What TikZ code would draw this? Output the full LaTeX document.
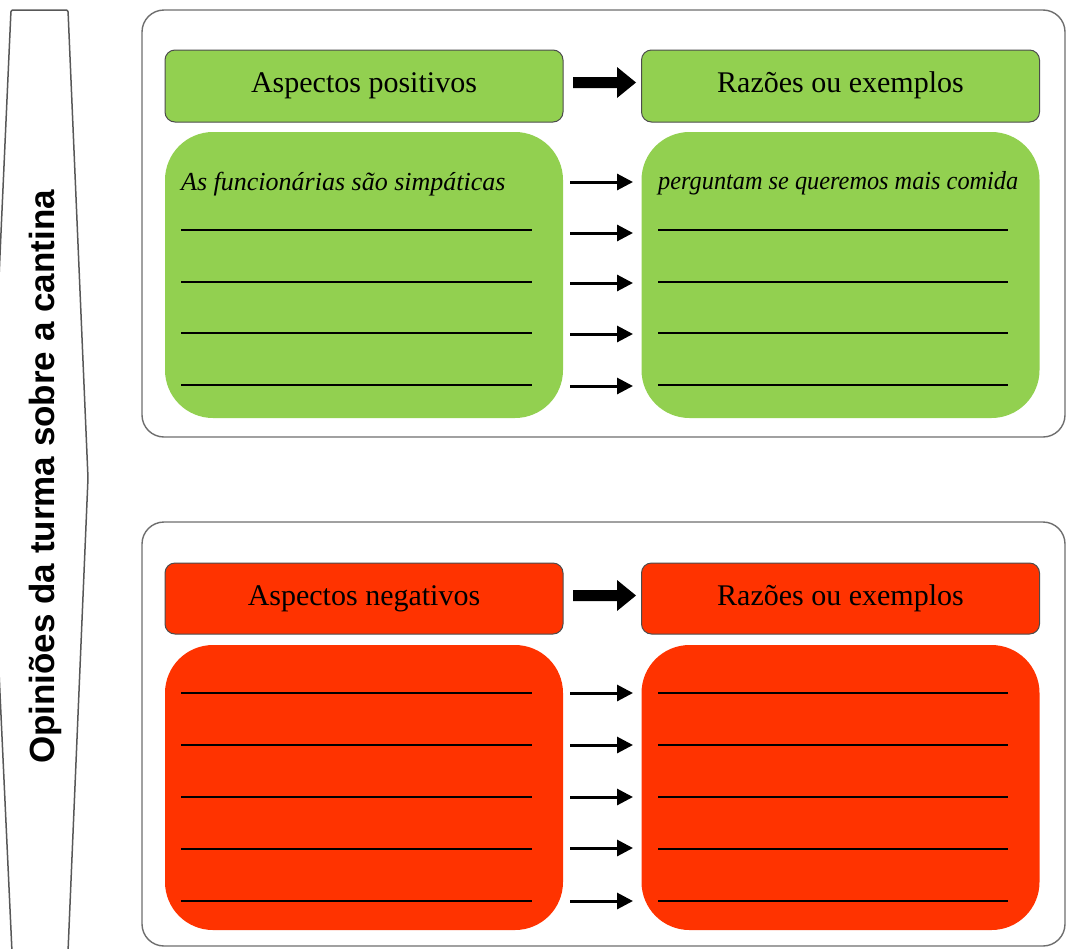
\documentclass[tikz,border=0pt]{standalone}
\usepackage{fontspec}
\setmainfont{Liberation Serif}
\newfontfamily\sidefont{Liberation Sans}
\usetikzlibrary{arrows.meta}
\definecolor{posgreen}{HTML}{92D050}
\definecolor{negred}{HTML}{FF3300}
\definecolor{frame}{HTML}{6E6E6E}
\tikzset{
  container/.style={draw=frame, line width=1.4pt, rounded corners=22pt, fill=white,
    minimum width=923pt, inner sep=0pt, outer sep=0pt},
  header/.style={draw=black!70, line width=1pt, rounded corners=10pt,
    minimum width=398pt, minimum height=72pt, inner sep=0pt, outer sep=0pt},
  body/.style={rounded corners=48pt, minimum width=398pt, minimum height=286pt,
    inner sep=0pt, outer sep=0pt},
  htext/.style={font=\fontsize{30}{36}\selectfont, anchor=base, inner sep=0pt},
  itext/.style={font=\fontsize{26}{30}\selectfont\itshape, anchor=base west, inner sep=0pt},
  rule/.style={line width=1.3pt, black},
  smallarrow/.style={line width=3pt, -{Triangle[length=16pt,width=16pt]}},
  bigarrow/.style={fill=black},
}
\begin{document}
\begin{tikzpicture}[x=1pt,y=-1pt]
\useasboundingbox (0,0) rectangle (1067,948);
% side banner
\begin{scope}
\clip (0,0) rectangle (1067,948);
\draw[frame!80!black, line width=1.5pt, fill=white, rounded corners=2pt]
  (11,10) -- (68,10) -- (88,478) -- (68,952) -- (12,952) -- (-10,478) -- cycle;
\end{scope}
\node[rotate=90, font=\sidefont\bfseries\fontsize{35}{40}\selectfont, inner sep=0pt] (side) at (45,477)
  {Opiniões da turma sobre a cantina};

% ===== positive block =====
\node[container, minimum height=427pt] (posbox) at (603.5,223.5) {};
\node[header, fill=posgreen] (poshead) at (364,86) {};
\node[header, fill=posgreen] (posreason) at (840.5,86) {};
\node[htext] at (364,92) {Aspectos positivos};
\node[htext] at (840.5,92) {Razões ou exemplos};
\fill[bigarrow] (573,77) -- (617,77) -- (617,67) -- (636,82.5) -- (617,98) -- (617,88) -- (573,88) -- cycle;

\node[body, fill=posgreen] (posbody) at (364,275) {};
\node[body, fill=posgreen] (posreasonbody) at (840.5,275) {};
\node[itext] (postext) at (181,190) {As funcionárias são simpáticas};
\node[itext] (reasontext) at (658,189) {\scalebox{0.935}[1]{perguntam se queremos mais comida}};

\foreach \y in {230,282,333,385} {
  \draw[rule] (181,\y) -- (532,\y);
  \draw[rule] (658,\y) -- (1008,\y);
}
\foreach \y/\n in {182/1,233/2,283/3,334/4,386/5} {
  \coordinate (pa\n) at (570,\y);
  \coordinate (pb\n) at (633,\y);
  \draw[smallarrow] (pa\n) -- (pb\n);
}

% ===== negative block =====
\node[container, minimum height=424pt] (negbox) at (603.5,734) {};
\node[header, fill=negred, minimum height=71pt] (neghead) at (364,598.5) {};
\node[header, fill=negred, minimum height=71pt] (negreason) at (840.5,598.5) {};
\node[htext] at (364,605) {Aspectos negativos};
\node[htext] at (840.5,605) {Razões ou exemplos};
\fill[bigarrow] (573,590) -- (617,590) -- (617,580) -- (636,595.5) -- (617,611) -- (617,601) -- (573,601) -- cycle;

\node[body, fill=negred, minimum height=285pt] (negbody) at (364,787.5) {};
\node[body, fill=negred, minimum height=285pt] (negreasonbody) at (840.5,787.5) {};
\foreach \y in {693,745,797,849,901} {
  \draw[rule] (181,\y) -- (532,\y);
  \draw[rule] (658,\y) -- (1008,\y);
}
\foreach \y/\n in {693/1,745/2,797/3,848/4,901/5} {
  \coordinate (na\n) at (570,\y);
  \coordinate (nb\n) at (633,\y);
  \draw[smallarrow] (na\n) -- (nb\n);
}
\end{tikzpicture}
\end{document}
